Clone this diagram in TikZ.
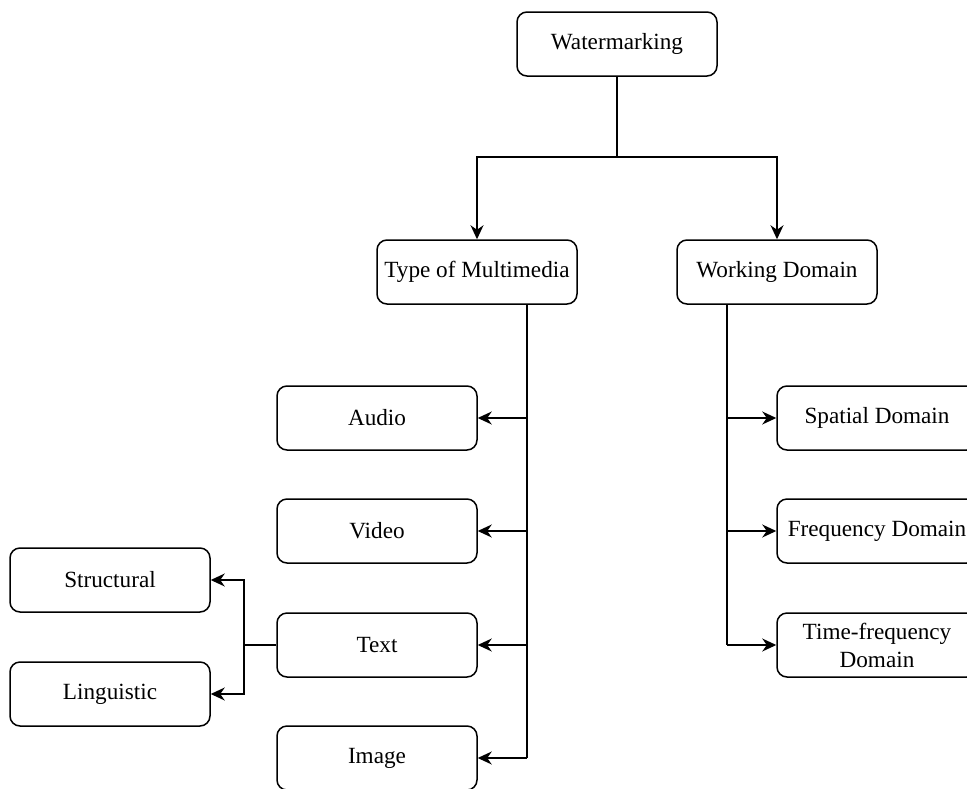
\documentclass[tikz,border=0pt]{standalone}
\usepackage{fontspec}
\setmainfont{Liberation Serif}
\newfontfamily\boxfont{Liberation Serif}
\usetikzlibrary{arrows.meta}
\begin{document}
\begin{tikzpicture}[x=1pt,y=-1pt,
  box/.style={draw, line width=1.5pt, rounded corners=10pt, minimum width=200pt,
    minimum height=64pt, inner sep=0pt, align=center,
    font=\boxfont\fontsize{23.2}{28}\selectfont},
  link/.style={line width=1.5pt, -{Stealth[length=14pt,width=13pt,inset=4.5pt]}},
  plain/.style={line width=1.5pt}]
\useasboundingbox (0,0) rectangle (967,788);
\clip (0,0) rectangle (967,788);
\fill[white] (0,0) rectangle (967,788);

% tree nodes
\node[box] (wm) at (617,44) {Watermarking};
\node[box] (tm) at (477,272) {Type of Multimedia};
\node[box] (wd) at (777,272) {Working Domain};

\node[box] (au) at (377,418) {Audio};
\node[box] (vi) at (377,531) {Video};
\node[box] (tx) at (377,645) {Text};
\node[box] (im) at (377,758) {Image};

\node[box] (st) at (110,580) {Structural};
\node[box] (li) at (110,694) {Linguistic};

\node[box] (sd) at (877,418) {Spatial Domain};
\node[box] (fd) at (877,531) {Frequency Domain};
\node[box] (tf) at (877,645) {Time-frequency\\Domain};

% junction points
\coordinate (top) at (617,157);
\coordinate (mbus) at (527,304);
\coordinate (dbus) at (727,304);
\coordinate (tbus) at (244,645);

% top split
\draw[plain] (wm.south) -- (top);
\draw[link] (top) -| (tm.north);
\draw[link] (top) -| (wd.north);

% multimedia branch
\draw[plain] (mbus) -- (mbus |- im.east);
\draw[link] (mbus |- au.east) -- (au.east);
\draw[link] (mbus |- vi.east) -- (vi.east);
\draw[link] (mbus |- tx.east) -- (tx.east);
\draw[link] (mbus |- im.east) -- (im.east);

% domain branch
\draw[plain] (dbus) -- (dbus |- tf.west);
\draw[link] (dbus |- sd.west) -- (sd.west);
\draw[link] (dbus |- fd.west) -- (fd.west);
\draw[link] (dbus |- tf.west) -- (tf.west);

% text subtypes
\draw[plain] (tx.west) -- (tbus);
\draw[link] (tbus) |- (st.east);
\draw[link] (tbus) |- (li.east);
\end{tikzpicture}
\end{document}
